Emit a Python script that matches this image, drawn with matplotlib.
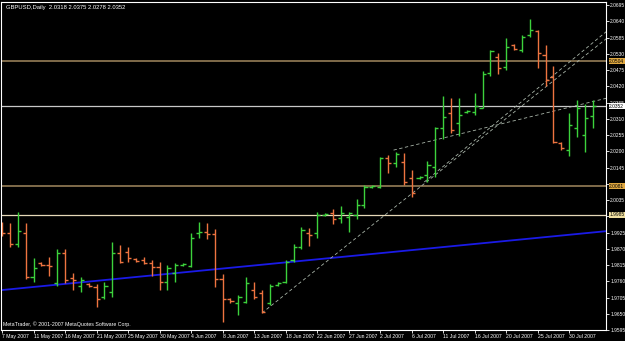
import matplotlib
matplotlib.use('Agg')
import matplotlib.pyplot as plt

plt.rcParams['font.family'] = ['Liberation Sans', 'DejaVu Sans']

# daily bars, GBPUSD (Sunday bars included, as in the terminal)
opens = [1.9940, 1.9923, 1.9887, 1.9923, 1.9774, 1.9822, 1.9815, 1.9754, 1.9856, 1.9771,
         1.9744, 1.9751, 1.9740, 1.9707, 1.9723, 1.9856, 1.9859, 1.9835, 1.9832, 1.9822,
         1.9808, 1.9757, 1.9788, 1.9815, 1.9812, 1.9923, 1.9926, 1.9920, 1.9767, 1.9700,
         1.9687, 1.9690, 1.9730, 1.9720, 1.9687, 1.9747, 1.9757, 1.9832, 1.9876, 1.9923,
         1.9923, 1.9984, 1.9991, 1.9974, 1.9977, 1.9984, 2.0018, 2.0079, 2.0079, 2.0177,
         2.0160, 2.0163, 2.0110, 2.0110, 2.0120, 2.0147, 2.0279, 2.0330, 2.0296, 2.0333,
         2.0333, 2.0347, 2.0465, 2.0519, 2.0485, 2.0560, 2.0543, 2.0594, 2.0607, 2.0526,
         2.0451, 2.0228, 2.0204, 2.0279, 2.0255, 2.0318]
highs = [1.9960, 1.9957, 1.9994, 1.9957, 1.9839, 1.9825, 1.9842, 1.9869, 1.9869, 1.9788,
         1.9774, 1.9754, 1.9751, 1.9757, 1.9893, 1.9883, 1.9876, 1.9839, 1.9842, 1.9832,
         1.9825, 1.9815, 1.9822, 1.9822, 1.9923, 1.9960, 1.9957, 1.9936, 1.9784, 1.9704,
         1.9714, 1.9774, 1.9757, 1.9730, 1.9751, 1.9757, 1.9832, 1.9887, 1.9943, 1.9940,
         1.9994, 1.9991, 2.0004, 2.0015, 1.9994, 2.0038, 2.0086, 2.0086, 2.0180, 2.0187,
         2.0197, 2.0194, 2.0137, 2.0116, 2.0167, 2.0282, 2.0388, 2.0381, 2.0381, 2.0340,
         2.0397, 2.0472, 2.0543, 2.0533, 2.0584, 2.0563, 2.0594, 2.0648, 2.0610, 2.0560,
         2.0489, 2.0231, 2.0330, 2.0374, 2.0360, 2.0375]
lows = [1.9913, 1.9876, 1.9876, 1.9767, 1.9757, 1.9812, 1.9778, 1.9744, 1.9754, 1.9730,
        1.9723, 1.9740, 1.9673, 1.9700, 1.9707, 1.9822, 1.9825, 1.9825, 1.9818, 1.9778,
        1.9730, 1.9730, 1.9757, 1.9812, 1.9808, 1.9907, 1.9903, 1.9740, 1.9622, 1.9687,
        1.9646, 1.9687, 1.9700, 1.9653, 1.9680, 1.9744, 1.9754, 1.9825, 1.9869, 1.9880,
        1.9907, 1.9981, 1.9954, 1.9957, 1.9926, 1.9970, 2.0008, 2.0076, 2.0076, 2.0127,
        2.0147, 2.0086, 2.0045, 2.0106, 2.0096, 2.0113, 2.0241, 2.0262, 2.0252, 2.0330,
        2.0323, 2.0347, 2.0455, 2.0462, 2.0475, 2.0543, 2.0536, 2.0587, 2.0482, 2.0421,
        2.0228, 2.0204, 2.0184, 2.0248, 2.0197, 2.0278]
closes = [1.9923, 1.9887, 1.9930, 1.9774, 1.9805, 1.9815, 1.9812, 1.9856, 1.9764, 1.9764,
          1.9764, 1.9744, 1.9700, 1.9744, 1.9856, 1.9825, 1.9839, 1.9829, 1.9822, 1.9808,
          1.9757, 1.9805, 1.9815, 1.9818, 1.9907, 1.9926, 1.9920, 1.9767, 1.9700, 1.9694,
          1.9707, 1.9754, 1.9707, 1.9656, 1.9744, 1.9754, 1.9825, 1.9876, 1.9933, 1.9916,
          1.9984, 1.9987, 1.9970, 1.9991, 1.9991, 2.0018, 2.0079, 2.0082, 2.0177, 2.0160,
          2.0190, 2.0096, 2.0059, 2.0113, 2.0154, 2.0279, 2.0316, 2.0272, 2.0323, 2.0337,
          2.0354, 2.0462, 2.0540, 2.0482, 2.0553, 2.0546, 2.0587, 2.0610, 2.0533, 2.0441,
          2.0231, 2.0211, 2.0289, 2.0347, 2.0313, 2.0352]

date_pos = [0, 4, 8, 12, 16, 20, 24, 28, 32, 36, 40, 44, 48, 52, 56, 60, 64, 68, 72]
date_labels = ['7 May 2007', '11 May 2007', '16 May 2007', '21 May 2007', '25 May 2007',
               '30 May 2007', '4 Jun 2007', '8 Jun 2007', '13 Jun 2007', '18 Jun 2007',
               '22 Jun 2007', '27 Jun 2007', '2 Jul 2007', '6 Jul 2007', '11 Jul 2007',
               '16 Jul 2007', '20 Jul 2007', '25 Jul 2007', '30 Jul 2007']
price_ticks = [2.0695, 2.0640, 2.0585, 2.0530, 2.0475, 2.0420, 2.0365, 2.0310, 2.0255,
               2.0200, 2.0145, 2.0090, 2.0035, 1.9980, 1.9925, 1.9870, 1.9815, 1.9760,
               1.9705, 1.9650, 1.9595]
# these sit under the level boxes on the scale
hidden_ticks = [2.0090, 1.9980]

# horizontal levels: value, line colour, label box colour
hlines_val = [2.0504, 2.0352, 2.0081, 1.9985]
hlines_col = ['#8a7450', '#c8c8c8', '#8a7450', '#e6d8b8']
hlines_box = ['#e0a840', '#ffffff', '#e0a840', '#f0e0a0']

# trend lines (bar index, price)
blue_x = [-0.2, 76.8]
blue_y = [1.9730, 1.9930]
dash_lines = [([33, 76.8], [1.9653, 2.0583]),
              ([53.6, 76.8], [2.0096, 2.0607]),
              ([49.7, 76.8], [2.0204, 2.0380])]

up_col = '#3cd23c'
dn_col = '#ee7440'

fig = plt.figure(figsize=(6.25, 3.41), dpi=100, facecolor='black')
ax = fig.add_axes([0.002, 0.032, 0.968, 0.962])
ax.set_facecolor('black')

# horizontal lines first (behind bars)
for v, c in zip(hlines_val, hlines_col):
    ax.axhline(v, color=c, lw=1.3 if c == '#8a7450' else 0.9, zorder=1)

ax.plot(blue_x, blue_y, color='#1a1ae6', lw=1.3, zorder=1)
for xs, ys in dash_lines:
    ax.plot(xs, ys, color='#a8b4a8', lw=0.6, ls=(0, (4, 3)), zorder=1)

for i in range(len(opens)):
    c = up_col if closes[i] >= opens[i] else dn_col
    ax.vlines(i, lows[i], highs[i], colors=c, lw=1.0, zorder=2)
    ax.hlines(opens[i], i - 0.4, i, colors=c, lw=1.0, zorder=2)
    ax.hlines(closes[i], i, i + 0.4, colors=c, lw=1.0, zorder=2)

ax.set_xlim(-0.1, 76.7)
ax.set_ylim(1.9595, 2.0705)

ax.yaxis.tick_right()
ax.set_yticks(price_ticks)
ax.set_yticklabels(['' if v in hidden_ticks else '%.4f' % v for v in price_ticks])
ax.set_xticks(date_pos)
ax.set_xticklabels(date_labels, ha='left')
ax.tick_params(axis='y', colors='white', labelsize=3.5, length=2, width=0.6, pad=0.8)
ax.tick_params(axis='x', colors='white', labelsize=3.7, length=2, width=0.6, pad=1.0)
for s in ax.spines.values():
    s.set_color('white')
    s.set_linewidth(0.8)

# price labels of the levels on the right scale
for v, b in zip(hlines_val, hlines_box):
    ax.text(1.005, v, '%.4f' % v, transform=ax.get_yaxis_transform(), fontsize=3.5,
            color='black', va='center', ha='left', zorder=10, clip_on=False,
            bbox=dict(boxstyle='square,pad=0.1', fc=b, ec='none'))

ax.text(0.008, 0.99, 'GBPUSD,Daily  2.0318 2.0375 2.0278 2.0352', transform=ax.transAxes,
        color='white', fontsize=4.2, va='top', ha='left')
ax.text(0.003, 0.008, 'MetaTrader, \u00a9 2001-2007 MetaQuotes Software Corp.',
        transform=ax.transAxes, color='white', fontsize=3.8, va='bottom', ha='left')

fig.savefig('out.png', dpi=100, facecolor='black')
